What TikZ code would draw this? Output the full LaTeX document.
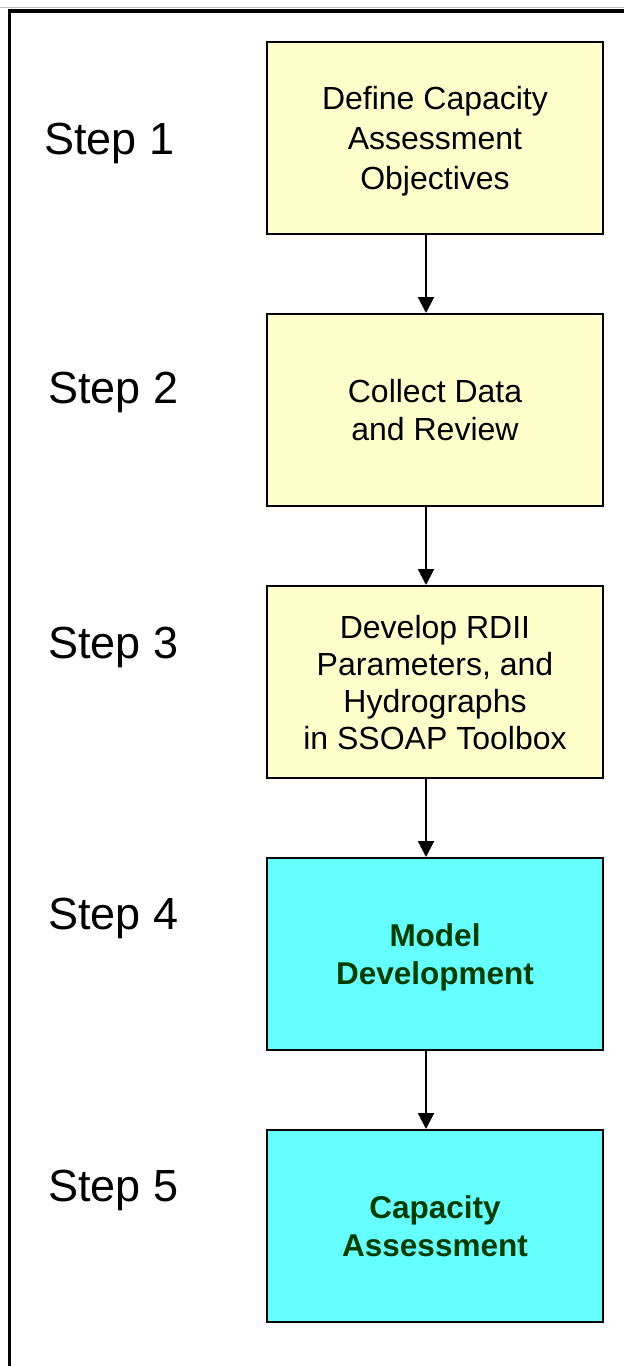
\documentclass[tikz,border=0pt]{standalone}
\usepackage{fontspec}
\setmainfont{Liberation Sans}
\usetikzlibrary{arrows.meta}
\definecolor{boxyellow}{HTML}{FFFFCC}
\definecolor{boxcyan}{HTML}{66FFFF}
\definecolor{darkgreentext}{RGB}{0,60,0}
\tikzset{
  stepbox/.style={draw=black, line width=2pt, minimum width=336pt, minimum height=192pt,
    inner sep=0pt, align=center, anchor=north west, text depth=0pt},
  yellowbox/.style={stepbox, fill=boxyellow, font=\fontsize{32}{38}\selectfont},
  cyanbox/.style={stepbox, fill=boxcyan, text=darkgreentext, font=\fontsize{31.5}{38}\selectfont\bfseries},
  steplabel/.style={anchor=base west, inner sep=0pt, font=\fontsize{45}{50}\selectfont},
  flowarrow/.style={line width=2pt, -{Triangle[width=16pt,length=16pt]}},
  frameline/.style={line width=3.5pt}
}
\begin{document}
\begin{tikzpicture}[x=1pt,y=-1pt]
\useasboundingbox (0,0) rectangle (624,1366);
% frame
\draw[gray!50, line width=1pt] (0,7) -- (624,7);
\draw[frameline] (9.5,1366) -- (9.5,11) -- (624,11);
% boxes
\node[yellowbox, font=\fontsize{32}{40}\selectfont] (b1) at (266,41) {Define Capacity\\Assessment\\Objectives};
\node[yellowbox, font=\fontsize{32}{37.5}\selectfont] (b2) at (266,313) {Collect Data\\and Review};
\node[yellowbox, font=\fontsize{32}{37}\selectfont] (b3) at (266,585) {Develop RDII\\Parameters, and\\Hydrographs\\in SSOAP Toolbox};
\node[cyanbox] (b4) at (266,857) {Model\\Development};
\node[cyanbox] (b5) at (266,1129) {Capacity\\Assessment};
% step labels
\node[steplabel] (s1) at (44,154) {Step 1};
\node[steplabel] (s2) at (48,403) {Step 2};
\node[steplabel] (s3) at (48,658) {Step 3};
\node[steplabel] (s4) at (48,929) {Step 4};
\node[steplabel] (s5) at (48,1201) {Step 5};
% arrows
\coordinate (ax) at (426,0);
\draw[flowarrow] (b1.south -| ax) -- (b2.north -| ax);
\draw[flowarrow] (b2.south -| ax) -- (b3.north -| ax);
\draw[flowarrow] (b3.south -| ax) -- (b4.north -| ax);
\draw[flowarrow] (b4.south -| ax) -- (b5.north -| ax);
\end{tikzpicture}
\end{document}
